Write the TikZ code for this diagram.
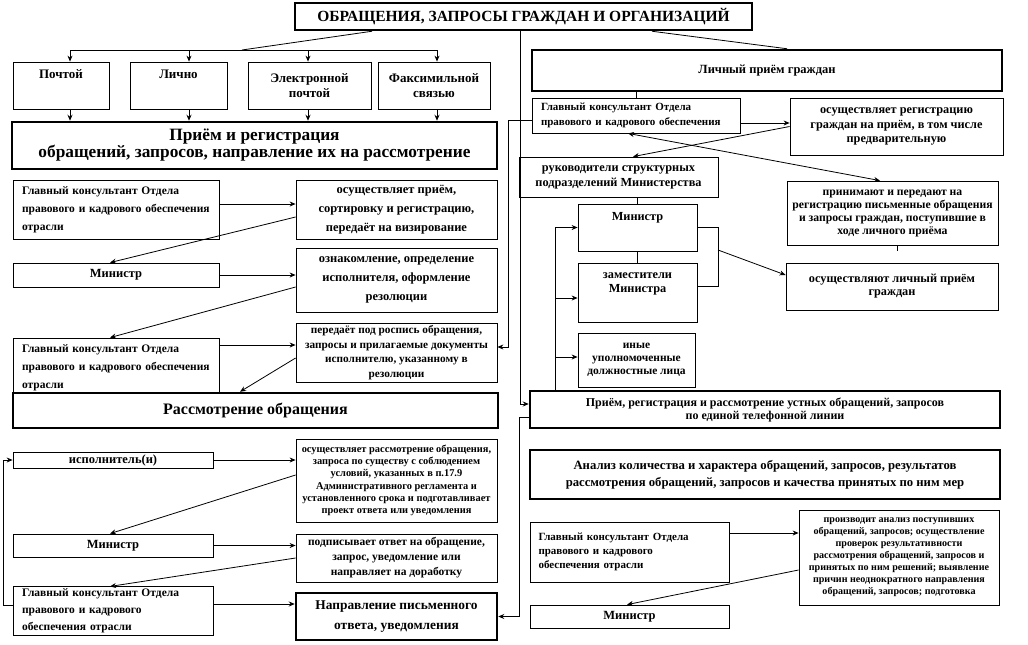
\documentclass[tikz,border=0pt]{standalone}
\usepackage{fontspec}
\setmainfont{Liberation Serif}
\usetikzlibrary{arrows.meta}

\begin{document}
\begin{tikzpicture}[
        x=1pt, y=-1pt,
        title/.style={rectangle, draw=black, line width=2.5pt, fill=white, align=center, font=\fontsize{15.5}{17}\selectfont\bfseries},
        stage/.style={rectangle, draw=black, line width=2.5pt, fill=white, align=center, inner sep=2pt, font=\fontsize{17.3}{17}\selectfont\bfseries},
        box/.style={rectangle, draw=black, line width=0.8pt, fill=white, align=center, inner sep=2pt, font=\fontsize{12.5}{19}\selectfont\bfseries},
        staff/.style={box, align=left, font=\fontsize{11.5}{18}\selectfont\bfseries},
        source/.style={box, minimum height=47pt, font=\fontsize{13}{15}\selectfont\bfseries},
        rbox/.style={box, font=\fontsize{12.3}{14.5}\selectfont\bfseries},
        note/.style={box, font=\fontsize{10.4}{12.3}\selectfont\bfseries},
        arrow/.style={line width=0.8pt,->,>={Stealth[length=6pt,width=5pt]}},
        link/.style={line width=0.8pt}
    ]
    \path [use as bounding box, fill=white] (0,0) rectangle (1028,645);

    % Nodes
    \node (Title) [title, minimum width=457pt, minimum height=27pt] at (523.5,16.5) {ОБРАЩЕНИЯ, ЗАПРОСЫ ГРАЖДАН И ОРГАНИЗАЦИЙ};

    % Ways of receipt
    \node (Pochtoy) [source, text depth=22pt, minimum width=96pt] at (61,85.5) {Почтой};
    \node (Lichno) [source, text depth=22pt, minimum width=97pt] at (178.5,85.5) {Лично};
    \node (Email) [source, minimum width=123pt] at (309.5,85.5) {Электронной\\почтой};
    \node (Fax) [source, minimum width=112pt] at (434,85.5) {Факсимильной\\связью};

    % Left branch: reception and registration
    \node (Priem) [stage, minimum width=485pt, minimum height=47pt] at (254.5,145.5) {Приём и регистрация\\обращений, запросов, направление их на рассмотрение};
    \node (GK1) [staff, text width=188pt, minimum width=206pt, minimum height=59pt] at (116,209.5) {Главный консультант Отдела\\правового и кадрового обеспечения\\отрасли};
    \node (Osush1) [box, minimum width=201pt, minimum height=59pt] at (396.5,209.5) {осуществляет приём,\\сортировку и регистрацию,\\передаёт на визирование};
    \node (Min1) [box, minimum width=206pt, minimum height=24pt] at (116,275) {Министр};
    \node (Oznak) [box, minimum width=201pt, minimum height=64pt] at (396.5,280) {ознакомление, определение\\исполнителя, оформление\\резолюции};
    \node (GK2) [staff, text width=188pt, minimum width=206pt, minimum height=59pt] at (116,367.5) {Главный консультант Отдела\\правового и кадрового обеспечения\\отрасли};
    \node (Peredaet) [box, font=\fontsize{11.3}{14.5}\selectfont\bfseries, minimum width=201pt, minimum height=59pt] at (396.5,352.5) {передаёт под роспись обращения,\\запросы и прилагаемые документы\\исполнителю, указанному в\\резолюции};

    % Left branch: consideration
    \node (Rassm) [stage, font=\fontsize{16}{17}\selectfont\bfseries, minimum width=485pt, minimum height=35pt] at (255.5,410.5) {Рассмотрение обращения};
    \node (Ispoln) [box, minimum width=200pt, minimum height=16pt] at (113,460) {исполнитель(и)};
    \node (Osush2) [note, minimum width=201pt, minimum height=83pt] at (396.5,480.5) {осуществляет рассмотрение обращения,\\запроса по существу с соблюдением\\условий, указанных в п.17.9\\Административного регламента и\\установленного срока и подготавливает\\проект ответа или уведомления};
    \node (Min2) [box, minimum width=200pt, minimum height=23pt] at (113,545.5) {Министр};
    \node (Podpis) [box, font=\fontsize{11.5}{15}\selectfont\bfseries, minimum width=201pt, minimum height=48pt] at (396.5,558) {подписывает ответ на обращение,\\запрос, уведомление или\\направляет на доработку};
    \node (GK3) [staff, text width=182pt, font=\fontsize{11.5}{17}\selectfont\bfseries, minimum width=200pt, minimum height=48pt] at (113,611) {Главный консультант Отдела\\правового и кадрового\\обеспечения отрасли};
    \node (Napravl) [stage, font=\fontsize{13.4}{20}\selectfont\bfseries, minimum width=201pt, minimum height=47pt] at (396.5,616.5) {Направление письменного\\ответа, уведомления};

    % Right branch: personal reception
    \node (Lichny) [stage, font=\fontsize{12.5}{16}\selectfont\bfseries, minimum width=470pt, minimum height=41pt] at (767,70.5) {Личный приём граждан};
    \node (GK4) [staff, text width=190pt, font=\fontsize{11}{15}\selectfont\bfseries, minimum width=208pt, minimum height=35pt] at (636,115.5) {Главный консультант Отдела\\правового и кадрового обеспечения};
    \node (OsushReg) [rbox, minimum width=213pt, minimum height=57pt] at (896.5,126.5) {осуществляет регистрацию\\граждан на приём, в том числе\\предварительную};
    \node (Rukovod) [rbox, font=\fontsize{12.3}{15}\selectfont\bfseries, minimum width=199pt, minimum height=40pt] at (618.5,177) {руководители структурных\\подразделений Министерства};
    \node (Prinim) [rbox, font=\fontsize{11.7}{13}\selectfont\bfseries, minimum width=211pt, minimum height=64pt] at (892.5,213) {принимают и передают на\\регистрацию письменные обращения\\и запросы граждан, поступившие в\\ходе личного приёма};
    \node (MinR) [rbox, text depth=23pt, minimum width=119pt, minimum height=47pt] at (637.5,227.5) {Министр};
    \node (ZamR) [rbox, text depth=20pt, minimum width=119pt, minimum height=59pt] at (637.5,292.5) {заместители\\Министра};
    \node (Inye) [rbox, font=\fontsize{11.5}{13}\selectfont\bfseries, minimum width=117pt, minimum height=54pt] at (636.5,360) {иные\\уполномоченные\\должностные лица};
    \node (LichPriem) [rbox, font=\fontsize{12.3}{13}\selectfont\bfseries, minimum width=212pt, minimum height=47pt] at (892,286.5) {осуществляют личный приём\\граждан};

    % Right branch: telephone line and analysis
    \node (Ustn) [stage, font=\fontsize{12}{13}\selectfont\bfseries, minimum width=470pt, minimum height=37pt] at (765,409.5) {Приём, регистрация и рассмотрение устных обращений, запросов\\по единой телефонной линии};
    \node (Analiz) [stage, font=\fontsize{12.7}{17}\selectfont\bfseries, minimum width=470pt, minimum height=49pt] at (765,474.5) {Анализ количества и характера обращений, запросов, результатов\\рассмотрения обращений, запросов и качества принятых по ним мер};
    \node (GK5) [staff, text width=182pt, font=\fontsize{11}{14}\selectfont\bfseries, minimum width=199pt, minimum height=60pt] at (629.5,552) {Главный консультант Отдела\\правового и кадрового\\обеспечения отрасли};
    \node (Proizv) [note, font=\fontsize{10.1}{12}\selectfont\bfseries, minimum width=200pt, minimum height=95pt] at (899,557.5) {производит анализ поступивших\\обращений, запросов; осуществление\\проверок результативности\\рассмотрения обращений, запросов и\\принятых по ним решений; выявление\\причин неоднократного направления\\обращений, запросов; подготовка};
    \node (MinB) [box, minimum width=199pt, minimum height=23pt] at (629.5,616.5) {Министр};

    % Coordinates for the rails
    \coordinate (Split) at (242,50);
    \coordinate (ColA) at (70,50);
    \coordinate (ColB) at (189,50);
    \coordinate (ColC) at (308,50);
    \coordinate (ColD) at (437,50);
    \coordinate (RailA) at (508,0);
    \coordinate (RailB) at (519,0);
    \coordinate (RailC) at (3,0);
    \coordinate (RailD) at (555,0);
    \coordinate (RailE) at (718,0);
    \coordinate (Bracket) at (718,250);
    \coordinate (PrinimStub) at (897,251);

    % Arrows: ways of receipt
    \draw [link] ([xshift=-151.5pt]Title.south) -- (Split);
    \draw [link] (ColA) -- (ColD);
    \draw [arrow] (ColA) -- (ColA |- Pochtoy.north);
    \draw [arrow] (ColB) -- (ColB |- Lichno.north);
    \draw [arrow] (ColC) -- (ColC |- Email.north);
    \draw [arrow] (ColD) -- (ColD |- Fax.north);
    \draw [arrow] (ColA |- Pochtoy.south) -- (ColA |- Priem.north);
    \draw [arrow] (ColB |- Lichno.south) -- (ColB |- Priem.north);
    \draw [arrow] (ColC |- Email.south) -- (ColC |- Priem.north);
    \draw [arrow] (ColD |- Fax.south) -- (ColD |- Priem.north);

    % Arrows: reception and registration
    \draw [arrow] ([yshift=5.5pt]GK1.east) -- ([yshift=5.5pt]GK1.east -| Osush1.west);
    \draw [arrow] ([yshift=-7.5pt]Osush1.west) -- ([xshift=-6pt]Min1.north);
    \draw [arrow] (Min1.east) -- (Min1.east -| Oznak.west);
    \draw [arrow] ([yshift=-7pt]Oznak.west) -- ([xshift=-6pt]GK2.north);
    \draw [arrow] ([yshift=22.5pt]GK2.east) -- ([yshift=22.5pt]GK2.east -| Peredaet.west);
    \draw [arrow] ([yshift=-5.5pt]Peredaet.west) -- ([xshift=-15.5pt]Rassm.north);

    % Arrows: consideration
    \draw [arrow] (Ispoln.east) -- (Ispoln.east -| Osush2.west);
    \draw [arrow] ([yshift=5.5pt]Osush2.west) -- ([xshift=-3pt]Min2.north);
    \draw [arrow] (Min2.east) -- (Min2.east -| Podpis.west);
    \draw [arrow] (Podpis.west) -- ([xshift=-3pt]GK3.north);
    \draw [arrow] ([yshift=7pt]GK3.east) -- ([yshift=7pt]GK3.east -| Napravl.west);
    \draw [arrow] ([yshift=6pt]GK3.west) -- ([yshift=6pt]GK3.west -| RailC) |- (Ispoln.west);

    % Arrows: personal reception
    \draw [link] ([xshift=128.5pt]Title.south) -- ([xshift=20pt]Lichny.north);
    \draw [arrow] ([xshift=-3.5pt]Title.south) |- ([yshift=5.5pt]Ustn.west);
    \draw [link] (Lichny.south -| GK4.north) -- (GK4.north);
    \draw [arrow] ([yshift=-7.5pt]GK4.east) -- ([yshift=-7.5pt]GK4.east -| OsushReg.west);
    \draw [arrow] (OsushReg.west) -- ([xshift=14.5pt]Rukovod.north);
    \draw [arrow, <->] ([xshift=-8pt]GK4.south) -- ([xshift=-12.5pt]Prinim.north);
    \draw [arrow] ([yshift=-4.5pt]GK4.west) -- ([yshift=-4.5pt]GK4.west -| RailA) |- ([yshift=5.5pt]Peredaet.east);
    \draw [link] (Rukovod.south -| MinR.north) -- (MinR.north);
    \draw [link] (MinR.south) -- (ZamR.north);
    \draw [link] (MinR.east) -- (MinR.east -| RailE) |- ([yshift=6.5pt]ZamR.east);
    \draw [arrow] (Bracket) -- ([yshift=11.5pt]LichPriem.west);
    \draw [link] ([xshift=4.5pt]Prinim.south) -- (PrinimStub);
    \draw [arrow] (Ustn.north -| RailD) |- (MinR.west);
    \draw [arrow] (Ustn.north -| RailD) |- ([yshift=-5.5pt]ZamR.west);
    \draw [arrow] (Ustn.north -| RailD) |- ([yshift=3pt]Inye.west);

    % Arrows: telephone line and analysis
    \draw [arrow] ([yshift=-7.5pt]Ustn.west) -- ([yshift=-7.5pt]Ustn.west -| RailB) |- (Napravl.east);
    \draw [arrow] ([yshift=19pt]GK5.east) -- ([yshift=19pt]GK5.east -| Proizv.west);
    \draw [arrow] ([yshift=-12.5pt]Proizv.west) -- ([xshift=-2.5pt]MinB.north);

\end{tikzpicture}
\end{document}
